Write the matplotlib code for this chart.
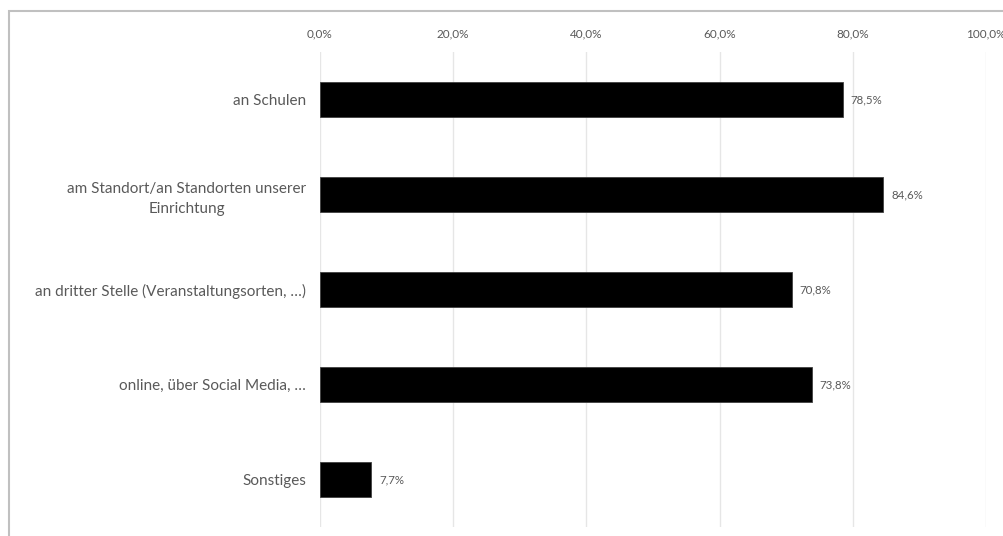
import matplotlib
matplotlib.use('Agg')
import matplotlib.pyplot as plt
from matplotlib.patches import Rectangle

plt.rcParams['font.family'] = ['Lato', 'DejaVu Sans']

# Daten
categories = ['an Schulen',
              'am Standort/an Standorten unserer\nEinrichtung',
              'an dritter Stelle (Veranstaltungsorten, …)',
              'online, über Social Media, …',
              'Sonstiges']
values = [78.5, 84.6, 70.8, 73.8, 7.7]
ticks = [0, 20, 40, 60, 80, 100]

text_col = '#595959'

fig = plt.figure(figsize=(10.04, 5.36), dpi=100)
W, H = 1004, 536
ax = fig.add_axes([320 / W, 1 - 527 / H, (986 - 320) / W, (527 - 52) / H])

ypos = list(range(len(categories)))
ax.barh(ypos, values, height=0.36, color='black', edgecolor='#404040', linewidth=0.6, zorder=3)
for y, v in zip(ypos, values):
    ax.text(v + 1.2, y, f'{v:.1f}%'.replace('.', ','), va='center', ha='left',
            fontsize=8.3, color=text_col)

ax.set_xlim(0, 100)
ax.set_ylim(len(categories) - 0.5, -0.5)
ax.set_xticks(ticks)
ax.set_xticklabels([f'{t:.1f}%'.replace('.', ',') for t in ticks], fontsize=8.5, color=text_col)
ax.xaxis.tick_top()
ax.tick_params(axis='x', length=0, pad=9)
ax.set_yticks(ypos)
ax.set_yticklabels(categories, fontsize=11, color=text_col, multialignment='center',
                   linespacing=1.5)
ax.tick_params(axis='y', length=0, pad=10)
ax.grid(axis='x', color='#e6e6e6', linewidth=1.0, zorder=0)
for s in ax.spines.values():
    s.set_visible(False)

# Rahmen
fig.patches.append(Rectangle((9 / W, -0.05), 1.1, 1.05 - 11 / H,
                             transform=fig.transFigure, fill=False,
                             edgecolor='#c0c0c0', linewidth=1.5))

fig.savefig('out.png', dpi=100)
